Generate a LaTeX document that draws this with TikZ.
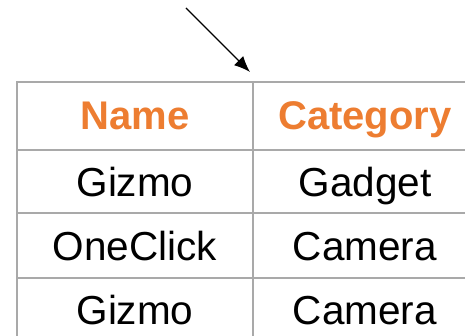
\documentclass[tikz,border=0pt]{standalone}
\usepackage{fontspec}
\setmainfont{Liberation Sans}
\usetikzlibrary{arrows.meta}
\definecolor{headorange}{HTML}{ED7D31}
\definecolor{rulegray}{HTML}{A9A9A9}
\begin{document}
\begin{tikzpicture}[x=1pt,y=-1pt]
\tikzstyle{cell}=[inner sep=0pt,anchor=base,font=\fontsize{40.5}{48}\selectfont]
\tikzstyle{head}=[cell,text=headorange,font=\fontsize{40}{48}\selectfont\bfseries]
\tikzstyle{rule}=[draw=rulegray,line width=2pt]
\useasboundingbox (0,0) rectangle (465,336);
% grid of the table
\foreach \y in {82,150,213.5,278}
  \draw[rule] (16,\y) -- (480,\y);
\foreach \x in {17,253}
  \draw[rule] (\x,81) -- (\x,345);
% header and rows
\draw (135,129.3) node[head] (h1) {Name};
\draw (365,129.3) node[head] (h2) {Category};
\draw (135,196.7) node[cell] (c1) {Gizmo};
\draw (365,196.7) node[cell] (c2) {Gadget};
\draw (135,260.5) node[cell] (c3) {OneClick};
\draw (365,260.5) node[cell] (c4) {Camera};
\draw (135,324.5) node[cell] (c5) {Gizmo};
\draw (365,324.5) node[cell] (c6) {Camera};
% arrow
\coordinate (tail) at (186,8);
\coordinate (tip) at (250,72);
\draw[line width=1.3pt,-{Latex[length=16pt,width=13pt]}] (tail) -- (tip);
\end{tikzpicture}
\end{document}
